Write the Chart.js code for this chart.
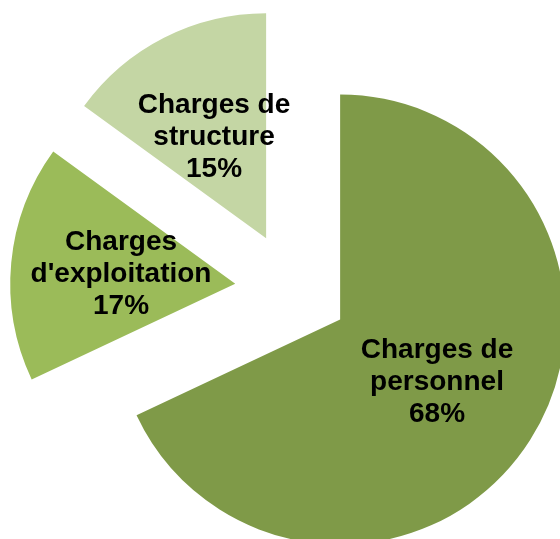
<!DOCTYPE html>
<html>
<head>
<meta charset="utf-8">
<script src="https://cdn.jsdelivr.net/npm/chart.js@4/dist/chart.umd.min.js"></script>
<style>
  html, body { margin: 0; padding: 0; background: #fff; }
  #wrap { width: 560px; height: 539px; }
</style>
</head>
<body>
<div id="wrap"><canvas id="pieChart"></canvas></div>
<script>
const categories = ['Charges de personnel', "Charges d'exploitation", 'Charges de structure'];
const labelLines = [['Charges de', 'personnel'], ['Charges', "d'exploitation"], ['Charges de', 'structure']];
const values = [68, 17, 15];
const colors = ['#7F9A48', '#9BBB59', '#C4D6A4'];

const explode = 57;

// pushes each slice out along its middle angle
const explodePlugin = {
    id: 'explode',
    afterDatasetUpdate(chart, args) {
        args.meta.data.forEach(arc => {
            const mid = (arc.startAngle + arc.endAngle) / 2;
            arc.x += Math.cos(mid) * explode;
            arc.y += Math.sin(mid) * explode;
        });
    },
    afterDatasetsDraw(chart) {
        const ctx = chart.ctx;
        const meta = chart.getDatasetMeta(0);
        ctx.save();
        ctx.font = 'bold 28px "Liberation Sans", Arial, sans-serif';
        ctx.fillStyle = '#000';
        ctx.textAlign = 'center';
        ctx.textBaseline = 'middle';
        meta.data.forEach((arc, i) => {
            const mid = (arc.startAngle + arc.endAngle) / 2;
            const r = arc.outerRadius * 0.51;
            const x = arc.x + Math.cos(mid) * r;
            const y = arc.y + Math.sin(mid) * r + 1;
            const lines = labelLines[i].concat([values[i] + '%']);
            const lh = 32;
            lines.forEach((t, j) => {
                ctx.fillText(t, x, y + (j - (lines.length - 1) / 2) * lh);
            });
        });
        ctx.restore();
    }
};

new Chart(document.getElementById('pieChart'), {
    type: 'pie',
    data: {
        labels: categories,
        datasets: [{
            data: values,
            backgroundColor: colors,
            borderWidth: 0,
            hoverOffset: 0,
            clip: false
        }]
    },
    options: {
        responsive: true,
        maintainAspectRatio: false,
        animation: false,
        radius: 225,
        layout: { padding: { left: 24, right: 0, top: 39, bottom: 0 } },
        plugins: {
            legend: { display: false },
            tooltip: { enabled: false }
        }
    },
    plugins: [explodePlugin]
});
</script>
</body>
</html>
